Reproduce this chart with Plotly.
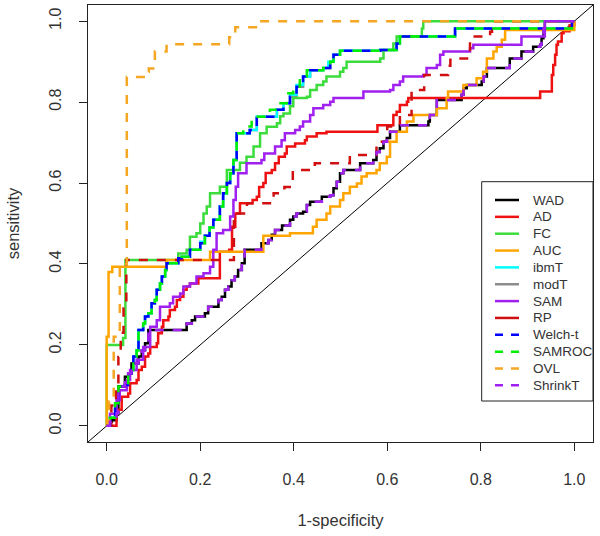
import plotly.graph_objects as go

# ---------------- data (ROC step points: move right to fpr, then up to sensitivity)
TICK_VALS = [0.0, 0.2, 0.4, 0.6, 0.8, 1.0]
TICK_TEXT = ["0.0", "0.2", "0.4", "0.6", "0.8", "1.0"]

WAD = [(0, 0), (0.007, 0.01), (0.011, 0.014), (0.021, 0.031), (0.025, 0.097), (0.039, 0.121),
       (0.046, 0.13), (0.053, 0.154), (0.068, 0.171), (0.075, 0.187), (0.082, 0.204), (0.089, 0.237),
       (0.171, 0.253), (0.182, 0.261), (0.189, 0.27), (0.21, 0.278), (0.217, 0.294), (0.239, 0.311),
       (0.246, 0.319), (0.253, 0.336), (0.26, 0.344), (0.267, 0.36), (0.274, 0.369), (0.281, 0.385),
       (0.289, 0.402), (0.295, 0.435), (0.331, 0.451), (0.346, 0.459), (0.353, 0.472), (0.36, 0.484),
       (0.375, 0.495), (0.392, 0.509), (0.399, 0.517), (0.406, 0.525), (0.42, 0.529), (0.428, 0.546),
       (0.435, 0.554), (0.46, 0.566), (0.478, 0.57), (0.485, 0.587), (0.492, 0.603), (0.499, 0.624),
       (0.506, 0.632), (0.542, 0.649), (0.57, 0.657), (0.577, 0.677), (0.584, 0.686), (0.592, 0.702),
       (0.599, 0.711), (0.606, 0.727), (0.627, 0.743), (0.688, 0.752), (0.691, 0.768), (0.706, 0.805),
       (0.759, 0.818), (0.763, 0.834), (0.77, 0.842), (0.802, 0.851), (0.806, 0.863), (0.813, 0.884),
       (0.862, 0.908), (0.887, 0.925), (0.912, 0.937), (0.927, 0.942), (0.93, 0.958), (0.934, 0.982),
       (0.937, 1.0), (1.0, 1.0)]

AD = [(0, 0), (0.011, 0.0), (0.021, 0.04), (0.032, 0.072), (0.046, 0.08), (0.05, 0.105), (0.064, 0.113),
      (0.068, 0.138), (0.075, 0.146), (0.082, 0.171), (0.089, 0.179), (0.093, 0.195), (0.107, 0.204),
      (0.11, 0.229), (0.118, 0.245), (0.121, 0.261), (0.132, 0.27), (0.135, 0.286), (0.146, 0.294),
      (0.15, 0.311), (0.157, 0.319), (0.164, 0.336), (0.171, 0.344), (0.178, 0.352), (0.196, 0.365),
      (0.242, 0.43), (0.262, 0.435), (0.268, 0.492), (0.275, 0.525), (0.285, 0.55), (0.312, 0.558),
      (0.321, 0.566), (0.326, 0.59), (0.335, 0.6), (0.34, 0.625), (0.353, 0.632), (0.36, 0.649),
      (0.368, 0.665), (0.381, 0.673), (0.385, 0.69), (0.403, 0.698), (0.424, 0.706), (0.428, 0.715),
      (0.449, 0.723), (0.47, 0.727), (0.579, 0.743), (0.613, 0.768), (0.62, 0.776), (0.627, 0.793),
      (0.642, 0.801), (0.645, 0.81), (0.927, 0.826), (0.952, 0.867), (0.955, 0.892), (0.959, 0.917),
      (0.962, 0.942), (0.965, 0.95), (0.973, 0.97), (0.977, 0.975), (0.99, 0.99), (1.0, 1.0)]

FC = [(0, 0), (0, 0.2), (0.035, 0.217), (0.04, 0.41), (0.153, 0.426), (0.171, 0.435), (0.178, 0.467),
      (0.192, 0.476), (0.2, 0.5), (0.207, 0.525), (0.214, 0.542), (0.221, 0.575), (0.242, 0.591),
      (0.257, 0.632), (0.285, 0.65), (0.299, 0.665), (0.314, 0.69), (0.328, 0.723), (0.342, 0.739),
      (0.364, 0.748), (0.371, 0.765), (0.378, 0.772), (0.392, 0.79), (0.399, 0.81), (0.428, 0.813),
      (0.435, 0.83), (0.449, 0.842), (0.463, 0.851), (0.47, 0.863), (0.499, 0.875), (0.506, 0.884),
      (0.513, 0.9), (0.585, 0.908), (0.592, 0.929), (0.613, 0.945), (0.62, 0.962), (0.674, 0.982),
      (0.677, 1.0), (1.0, 1.0)]

AUC = [(0, 0), (0, 0.22), (0.004, 0.38), (0.012, 0.393), (0.128, 0.41), (0.221, 0.43), (0.335, 0.47),
       (0.392, 0.476), (0.441, 0.492), (0.449, 0.509), (0.47, 0.525), (0.478, 0.542), (0.499, 0.558),
       (0.506, 0.575), (0.52, 0.591), (0.535, 0.599), (0.545, 0.616), (0.556, 0.624), (0.577, 0.632),
       (0.584, 0.649), (0.599, 0.665), (0.606, 0.702), (0.62, 0.727), (0.642, 0.752), (0.656, 0.768),
       (0.706, 0.785), (0.727, 0.81), (0.73, 0.826), (0.763, 0.842), (0.791, 0.859), (0.805, 0.875),
       (0.813, 0.908), (0.827, 0.925), (0.834, 0.937), (0.845, 0.954), (0.852, 0.978), (1.0, 1.0)]

WELCH_T = [(0, 0), (0.007, 0.02), (0.018, 0.056), (0.025, 0.097), (0.039, 0.101), (0.046, 0.13),
           (0.053, 0.138), (0.057, 0.171), (0.064, 0.187), (0.068, 0.237), (0.078, 0.253), (0.082, 0.27),
           (0.089, 0.278), (0.096, 0.303), (0.103, 0.311), (0.107, 0.336), (0.114, 0.352), (0.118, 0.369),
           (0.125, 0.385), (0.128, 0.402), (0.153, 0.414), (0.16, 0.418), (0.178, 0.435), (0.2, 0.451),
           (0.21, 0.47), (0.22, 0.49), (0.228, 0.509), (0.242, 0.542), (0.249, 0.575), (0.257, 0.6),
           (0.264, 0.624), (0.271, 0.657), (0.278, 0.723), (0.306, 0.731), (0.321, 0.764), (0.364, 0.781),
           (0.378, 0.797), (0.392, 0.813), (0.406, 0.838), (0.42, 0.863), (0.435, 0.879), (0.463, 0.884),
           (0.478, 0.9), (0.485, 0.917), (0.499, 0.927), (0.585, 0.929), (0.62, 0.945), (0.627, 0.962),
           (0.745, 0.982), (0.995, 1.0), (1.0, 1.0)]

IBMT = [(0, 0), (0.007, 0.02), (0.018, 0.056), (0.025, 0.097), (0.039, 0.101), (0.046, 0.13),
        (0.053, 0.138), (0.057, 0.171), (0.064, 0.187), (0.068, 0.237), (0.078, 0.253), (0.082, 0.27),
        (0.089, 0.278), (0.096, 0.303), (0.103, 0.311), (0.107, 0.336), (0.114, 0.352), (0.118, 0.369),
        (0.125, 0.385), (0.128, 0.402), (0.153, 0.414), (0.16, 0.418), (0.178, 0.435), (0.2, 0.455),
        (0.21, 0.47), (0.22, 0.49), (0.228, 0.509), (0.242, 0.542), (0.249, 0.575), (0.257, 0.6),
        (0.264, 0.624), (0.271, 0.657), (0.278, 0.723), (0.306, 0.731), (0.321, 0.764), (0.364, 0.781),
        (0.378, 0.797), (0.392, 0.818), (0.406, 0.842), (0.42, 0.863), (0.435, 0.879), (0.463, 0.884),
        (0.474, 0.9), (0.485, 0.917), (0.499, 0.927), (0.585, 0.929), (0.62, 0.945), (0.627, 0.962),
        (0.745, 0.982), (0.995, 1.0), (1.0, 1.0)]

MODT = [(0, 0), (0.007, 0.02), (0.018, 0.056), (0.025, 0.097), (0.039, 0.101), (0.046, 0.13),
        (0.053, 0.138), (0.057, 0.171), (0.064, 0.187), (0.068, 0.237), (0.078, 0.253), (0.082, 0.27),
        (0.089, 0.278), (0.096, 0.303), (0.103, 0.311), (0.107, 0.336), (0.114, 0.352), (0.118, 0.369),
        (0.125, 0.385), (0.128, 0.402), (0.153, 0.414), (0.16, 0.418), (0.178, 0.435), (0.2, 0.451),
        (0.21, 0.47), (0.22, 0.49), (0.228, 0.509), (0.242, 0.542), (0.249, 0.575), (0.257, 0.6),
        (0.264, 0.624), (0.271, 0.657), (0.278, 0.723), (0.306, 0.731), (0.321, 0.764), (0.364, 0.781),
        (0.378, 0.797), (0.392, 0.813), (0.406, 0.838), (0.42, 0.863), (0.435, 0.879), (0.463, 0.884),
        (0.478, 0.9), (0.485, 0.917), (0.499, 0.927), (0.585, 0.929), (0.62, 0.945), (0.627, 0.962),
        (0.745, 0.982), (0.995, 1.0), (1.0, 1.0)]

SAMROC = [(0, 0), (0.007, 0.02), (0.018, 0.056), (0.025, 0.097), (0.039, 0.101), (0.046, 0.13),
          (0.053, 0.138), (0.057, 0.171), (0.064, 0.187), (0.068, 0.237), (0.078, 0.253), (0.082, 0.27),
          (0.089, 0.278), (0.096, 0.303), (0.103, 0.311), (0.107, 0.336), (0.114, 0.352), (0.118, 0.369),
          (0.125, 0.385), (0.128, 0.402), (0.153, 0.414), (0.16, 0.418), (0.178, 0.435), (0.2, 0.451),
          (0.21, 0.47), (0.22, 0.49), (0.228, 0.509), (0.242, 0.542), (0.249, 0.575), (0.257, 0.6),
          (0.264, 0.624), (0.271, 0.657), (0.278, 0.723), (0.292, 0.74), (0.31, 0.764), (0.349, 0.781),
          (0.364, 0.797), (0.385, 0.822), (0.399, 0.838), (0.413, 0.863), (0.428, 0.879), (0.463, 0.884),
          (0.478, 0.9), (0.485, 0.917), (0.499, 0.927), (0.585, 0.929), (0.62, 0.945), (0.627, 0.962),
          (0.745, 0.982), (0.995, 1.0), (1.0, 1.0)]

SAM = [(0, 0), (0.007, 0.03), (0.021, 0.064), (0.028, 0.088), (0.043, 0.113), (0.05, 0.138),
       (0.064, 0.163), (0.078, 0.195), (0.093, 0.245), (0.107, 0.261), (0.114, 0.294), (0.135, 0.303),
       (0.142, 0.319), (0.157, 0.327), (0.164, 0.344), (0.178, 0.352), (0.192, 0.369), (0.207, 0.377),
       (0.221, 0.393), (0.228, 0.435), (0.235, 0.476), (0.249, 0.484), (0.264, 0.517), (0.271, 0.558),
       (0.276, 0.591), (0.281, 0.624), (0.299, 0.649), (0.331, 0.657), (0.337, 0.673), (0.36, 0.69),
       (0.374, 0.706), (0.381, 0.723), (0.403, 0.731), (0.413, 0.74), (0.42, 0.752), (0.435, 0.768),
       (0.442, 0.785), (0.463, 0.793), (0.478, 0.801), (0.485, 0.81), (0.549, 0.826), (0.606, 0.83),
       (0.613, 0.842), (0.627, 0.851), (0.634, 0.863), (0.677, 0.867), (0.684, 0.884), (0.706, 0.892),
       (0.713, 0.917), (0.72, 0.925), (0.777, 0.933), (0.784, 0.942), (0.887, 0.962), (0.937, 1.0),
       (1.0, 1.0)]

RP = [(0, 0), (0.01, 0.05), (0.02, 0.1), (0.025, 0.17), (0.03, 0.23), (0.036, 0.29), (0.042, 0.41),
      (0.272, 0.525), (0.3, 0.55), (0.357, 0.575), (0.38, 0.59), (0.398, 0.632), (0.445, 0.649),
      (0.52, 0.669), (0.577, 0.702), (0.6, 0.74), (0.627, 0.768), (0.652, 0.83), (0.679, 0.867),
      (0.73, 0.89), (0.735, 0.908), (0.777, 0.954), (0.784, 0.962), (0.82, 0.974), (0.824, 1.0),
      (1.0, 1.0)]

OVL = [(0, 0), (0.005, 0.06), (0.015, 0.22), (0.028, 0.40), (0.043, 0.862), (0.082, 0.875),
       (0.09, 0.883), (0.103, 0.925), (0.128, 0.943), (0.262, 0.96), (0.275, 0.985), (0.328, 1.0),
       (1.0, 1.0)]

SHRINKT = WAD

SERIES = {"WAD": WAD, "AD": AD, "FC": FC, "AUC": AUC, "ibmT": IBMT, "modT": MODT, "SAM": SAM,
          "RP": RP, "Welch-t": WELCH_T, "SAMROC": SAMROC, "OVL": OVL, "ShrinkT": SHRINKT}
LEGEND_ORDER = ["WAD", "AD", "FC", "AUC", "ibmT", "modT", "SAM", "RP",
                "Welch-t", "SAMROC", "OVL", "ShrinkT"]

# ---------------- styles
COLORS = {"WAD": "#000000", "AD": "#EE1111", "FC": "#3DDC3D", "AUC": "#FFA500", "ibmT": "#00FFFF",
          "modT": "#8C8C8C", "SAM": "#A020F0", "RP": "#D01010", "Welch-t": "#0000FF",
          "SAMROC": "#00EE00", "OVL": "#F5A623", "ShrinkT": "#A020F0"}
DASH_A = "9px,9px"
DASH_B = "0px,9px,9px,0px"   # same dash, shifted phase
PLOT_DASH = {"RP": DASH_A, "Welch-t": DASH_A, "SAMROC": DASH_B, "OVL": DASH_A, "ShrinkT": DASH_A}
LEGEND_DASH = {"Welch-t": "8px,8px", "SAMROC": "8px,8px", "OVL": "8px,8px", "ShrinkT": "8px,8px"}
DRAW_ORDER = ["modT", "ibmT", "WAD", "AD", "FC", "AUC", "SAM", "RP",
              "Welch-t", "SAMROC", "OVL", "ShrinkT"]

W, H = 600, 536
ML, MR, MT, MB = 88, 7, 5, 94
AX_RANGE = [-0.04, 1.04]
FONT = "Liberation Sans, Arial, sans-serif"
TXT = "#333333"

fig = go.Figure()

# reference diagonal (abline 0,1)
fig.add_shape(type="line", xref="x", yref="y", x0=AX_RANGE[0], y0=AX_RANGE[0],
              x1=AX_RANGE[1], y1=AX_RANGE[1], line=dict(color="#000000", width=1), layer="below")

for name in DRAW_ORDER:
    pts = SERIES[name]
    fig.add_trace(go.Scatter(
        x=[p[0] for p in pts], y=[p[1] for p in pts], mode="lines", name=name,
        line=dict(color=COLORS[name], width=2.5, dash=PLOT_DASH.get(name, "solid"), shape="hv"),
        showlegend=False, hoverinfo="name+x+y"))

axis_common = dict(range=AX_RANGE, tickvals=TICK_VALS, ticktext=TICK_TEXT, ticks="outside",
                   ticklen=8, tickwidth=1, tickcolor="#222", showgrid=False, zeroline=False,
                   showline=True, mirror=True, linecolor="#222", linewidth=1,
                   tickfont=dict(family=FONT, size=16, color=TXT))

fig.update_layout(
    width=W, height=H, margin=dict(l=ML, r=MR, t=MT, b=MB, autoexpand=False),
    paper_bgcolor="white", plot_bgcolor="white", showlegend=False,
    xaxis=dict(**axis_common, ticklabelstandoff=15,
               title=dict(text="1-specificity", font=dict(family=FONT, size=16.5, color=TXT), standoff=27)),
    yaxis=dict(**axis_common, tickangle=-90, ticklabelstandoff=12,
               title=dict(text="sensitivity", font=dict(family=FONT, size=16.5, color=TXT), standoff=22)),
)

# ---------------- legend box (R style, inside the plot, right side)
PW, PH = W - ML - MR, H - MT - MB


def px_x(X):
    return (X - ML) / PW


def px_y(Y):
    return (H - MB - Y) / PH


fig.add_shape(type="rect", xref="paper", yref="paper", x0=px_x(481.7), x1=1.0,
              y0=px_y(401), y1=px_y(181.7), line=dict(color="#222", width=1),
              fillcolor="white", layer="above")
for i, name in enumerate(LEGEND_ORDER):
    yy = px_y(200 + i * 16.85)
    fig.add_shape(type="line", xref="paper", yref="paper", x0=px_x(495), x1=px_x(519), y0=yy, y1=yy,
                  line=dict(color=COLORS[name], width=2.5, dash=LEGEND_DASH.get(name, "solid")),
                  layer="above")
    fig.add_annotation(xref="paper", yref="paper", x=px_x(531), y=yy, text=name, showarrow=False,
                       xanchor="left", yanchor="middle", font=dict(family=FONT, size=13.5, color=TXT))

fig.write_html("out.html", config={"displayModeBar": False},
               post_script="document.body.style.margin='0px';document.body.style.overflow='hidden';")
